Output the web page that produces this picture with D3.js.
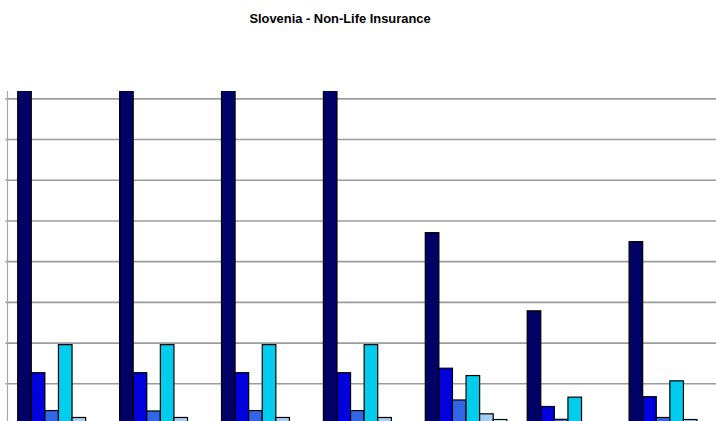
<!DOCTYPE html>
<html>
<head>
<meta charset="utf-8">
<script src="https://cdn.jsdelivr.net/npm/d3@7"></script>
<style>
  html, body { margin: 0; padding: 0; background: #fff; overflow: hidden; }
  svg { display: block; }
</style>
</head>
<body>
<svg id="chart" width="716" height="421"></svg>
<script>
// ---- data (values in gridline units) ----
const title = "Slovenia - Non-Life Insurance";
const categories = ["G1", "G2", "G3", "G4", "G5", "G6", "G7"];
const seriesNames = ["S1", "S2", "S3", "S4", "S5", "S6"];
const s1 = [9.5, 9.5, 9.5, 9.5, 4.70, 2.78, 4.48];
const s2 = [1.26, 1.26, 1.26, 1.26, 1.37, 0.43, 0.67];
const s3 = [0.33, 0.32, 0.33, 0.33, 0.59, 0.115, 0.16];
const s4 = [1.95, 1.95, 1.95, 1.95, 1.19, 0.66, 1.06];
const s5 = [0.16, 0.16, 0.16, 0.16, 0.25, 0.03, 0.11];
const s6 = [0.03, 0.03, 0.03, 0.03, 0.11, 0.02, 0.03];
const seriesValues = [s1, s2, s3, s4, s5, s6];
const colors = ["#000066", "#0000DD", "#3366E6", "#00CCEE", "#A6CFF5", "#CCFFFF"];
const yMax = 8.18;
const gridTicks = [1, 2, 3, 4, 5, 6, 7, 8];

// ---- layout ----
const svg = d3.select("#chart");
const plot = { left: 7.5, top: 91, bottom: 424, step: 101.9 };
const plotRight = plot.left + plot.step * categories.length;

const x0 = d3.scaleBand().domain(categories).range([plot.left, plotRight]).padding(0);
const x1 = d3.scaleBand().domain(seriesNames)
  .range([x0.bandwidth() * 0.1, x0.bandwidth() * 0.9]).padding(0);
const y = d3.scaleLinear().domain([0, yMax]).range([plot.bottom, plot.top]);

svg.append("defs").append("clipPath").attr("id", "clip")
  .append("rect").attr("x", plot.left).attr("y", plot.top)
  .attr("width", plotRight - plot.left).attr("height", plot.bottom - plot.top);

// title
svg.append("text")
  .attr("x", 340).attr("y", 22.5)
  .attr("text-anchor", "middle")
  .attr("font-family", "Liberation Sans, Arial, sans-serif")
  .attr("font-weight", "bold")
  .attr("font-size", 12.9)
  .attr("fill", "#000")
  .text(title);

// gridlines via axis
const yAxis = d3.axisLeft(y).tickValues(gridTicks)
  .tickSize(-(plotRight - plot.left)).tickFormat("");
const gAxis = svg.append("g")
  .attr("transform", `translate(${plot.left},0)`)
  .call(yAxis);
gAxis.select(".domain").remove();
gAxis.selectAll(".tick line")
  .attr("x1", -2)
  .attr("stroke", "#9c9c9c").attr("stroke-width", 1.6);

// vertical axis line
svg.append("line")
  .attr("x1", plot.left).attr("x2", plot.left)
  .attr("y1", plot.top).attr("y2", plot.bottom)
  .attr("stroke", "#a8a8a8").attr("stroke-width", 1.2);

// bars
const gBars = svg.append("g").attr("clip-path", "url(#clip)");
categories.forEach((c, ci) => {
  seriesNames.forEach((s, si) => {
    const v = seriesValues[si][ci];
    gBars.append("rect")
      .attr("x", x0(c) + x1(s))
      .attr("y", y(v))
      .attr("width", x1.bandwidth())
      .attr("height", y(0) - y(v))
      .attr("fill", colors[si])
      .attr("stroke", "#000")
      .attr("stroke-width", 1.2);
  });
});
</script>
</body>
</html>
